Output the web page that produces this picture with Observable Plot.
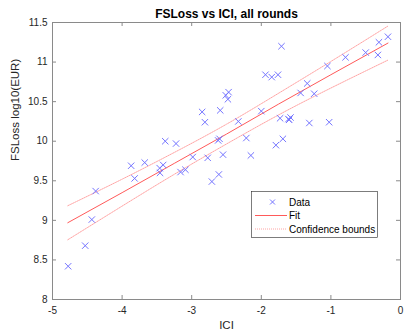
<!DOCTYPE html>
<html><head><meta charset="utf-8">
<script src="https://cdn.jsdelivr.net/npm/d3@7"></script>
<script src="https://cdn.jsdelivr.net/npm/@observablehq/plot@0.6"></script>
<style>
body{margin:0;background:#fff;}
svg{font-family:"Liberation Sans",Arial,sans-serif;}
</style>
</head><body><div id="chart"></div>
<script>
// Data
const ici = [-4.775,-4.53,-4.435,-4.38,-3.87,-3.82,-3.675,-3.46,-3.455,-3.41,-3.38,-3.225,-3.16,-3.09,-2.985,-2.85,-2.81,-2.77,-2.71,-2.61,-2.62,-2.60,-2.59,-2.55,-2.51,-2.47,-2.48,-2.33,-2.215,-2.15,-2.0,-1.94,-1.85,-1.76,-1.71,-1.73,-1.79,-1.69,-1.61,-1.58,-1.60,-1.435,-1.34,-1.31,-1.24,-1.05,-1.025,-0.79,-0.50,-0.325,-0.31,-0.18];
const fsloss = [8.42,8.68,9.01,9.37,9.69,9.53,9.73,9.66,9.60,9.70,10.00,9.97,9.61,9.64,9.80,10.37,10.24,9.79,9.49,9.58,10.01,10.03,10.39,9.83,10.58,10.62,10.53,10.25,10.04,9.82,10.38,10.84,10.81,10.84,11.20,10.29,9.95,10.03,10.28,10.30,10.27,10.61,10.73,10.23,10.60,10.95,10.24,11.06,11.12,11.09,11.25,11.32];
const fitX = [-4.78,-4.0,-3.25,-2.5,-1.75,-1.0,-0.18];
const fitY = [8.97,9.35,9.72,10.09,10.47,10.84,11.24];
const upperY = [9.185,9.52,9.858,10.215,10.607,11.008,11.455];
const lowerY = [8.755,9.18,9.582,9.965,10.333,10.672,11.025];
const xTicks = [-5,-4,-3,-2,-1,0];
const xTickLabels = ["-5","-4","-3","-2","-1","0"];
const yTicks = [8,8.5,9,9.5,10,10.5,11,11.5];
const yTickLabels = ["8","8.5","9","9.5","10","10.5","11","11.5"];
const legendLabels = ["Data","Fit","Confidence bounds"];

const points = ici.map((x,i)=>({x, y: fsloss[i]}));
const fit = fitX.map((x,i)=>({x, y: fitY[i]}));
const upper = fitX.map((x,i)=>({x, y: upperY[i]}));
const lower = fitX.map((x,i)=>({x, y: lowerY[i]}));

const W = 406, H = 331, mL = 52, mR = 6, mT = 22, mB = 32;
const fH = H - mT - mB, fW = W - mL - mR, tk = 4;
const axisColor = "#262626";
const boundColor = "#ffa4a4", fitColor = "#ff5a5a", dataColor = "#7474ff";

const plot = Plot.plot({
  width: W, height: H,
  marginLeft: mL, marginRight: mR, marginTop: mT, marginBottom: mB,
  x: {domain: [-5, 0]},
  y: {domain: [8, 11.5]},
  axis: null,
  marks: [
    Plot.line(upper, {x:"x", y:"y", stroke:boundColor, strokeWidth:1, strokeDasharray:"1,1", curve:"natural"}),
    Plot.line(lower, {x:"x", y:"y", stroke:boundColor, strokeWidth:1, strokeDasharray:"1,1", curve:"natural"}),
    Plot.line(fit, {x:"x", y:"y", stroke:fitColor, strokeWidth:1}),
    Plot.dot(points, {x:"x", y:"y", symbol:"times", r:3, stroke:dataColor, strokeWidth:1}),
    Plot.frame({stroke:"#8a8a8a", strokeWidth:1}),
    Plot.tickX(xTicks, {x:d=>d, insetTop: fH - tk, stroke:"#8a8a8a"}),
    Plot.tickX(xTicks, {x:d=>d, insetBottom: fH - tk, stroke:"#8a8a8a"}),
    Plot.tickY(yTicks, {y:d=>d, insetRight: fW - tk, stroke:"#8a8a8a"}),
    Plot.tickY(yTicks, {y:d=>d, insetLeft: fW - tk, stroke:"#8a8a8a"}),
    Plot.text(xTicks, {x:d=>d, text:(d,i)=>xTickLabels[i], frameAnchor:"bottom", lineAnchor:"middle", dy:11, fontSize:10, fill:axisColor}),
    Plot.text(yTicks, {y:d=>d, text:(d,i)=>yTickLabels[i], frameAnchor:"left", textAnchor:"end", dx:-5, fontSize:10, fill:axisColor}),
    Plot.text(["ICI"], {frameAnchor:"bottom", lineAnchor:"middle", dy:25.5, fontSize:11.5, fill:axisColor}),
    Plot.text(["FSLoss log10(EUR)"], {frameAnchor:"left", rotate:-90, dx:-37, fontSize:11.5, fill:axisColor}),
    Plot.text(["FSLoss vs ICI, all rounds"], {frameAnchor:"top", lineAnchor:"middle", dy:-8, fontSize:12, fontWeight:"bold", fill:"#000"})
  ]
});
document.getElementById("chart").appendChild(plot);

// Legend box (MATLAB style, inside the axes)
const svg = d3.select(plot);
const lg = svg.append("g").attr("font-size", 10).attr("fill", "#000").attr("text-anchor", "start");
const bx = 251.5, by = 191.5, bw = 126, bh = 46;
lg.append("rect").attr("x", bx).attr("y", by).attr("width", bw).attr("height", bh)
  .attr("fill", "#fff").attr("stroke", "#262626").attr("stroke-width", 0.6);
const rowY = [202, 215.5, 229];
lg.append("path").attr("d", `M${270},${rowY[0]-2.5}L${275},${rowY[0]+2.5}M${275},${rowY[0]-2.5}L${270},${rowY[0]+2.5}`)
  .attr("stroke", dataColor).attr("fill", "none");
lg.append("line").attr("x1", 255).attr("x2", 287).attr("y1", rowY[1]).attr("y2", rowY[1])
  .attr("stroke", fitColor);
lg.append("line").attr("x1", 255).attr("x2", 287).attr("y1", rowY[2]).attr("y2", rowY[2])
  .attr("stroke", boundColor).attr("stroke-dasharray", "1,1");
legendLabels.forEach((t, i) => {
  lg.append("text").attr("x", 289).attr("y", rowY[i]).attr("dy", "0.35em")
    .attr("text-anchor", "start").attr("fill", "#000").text(t);
});
</script>
</body></html>
